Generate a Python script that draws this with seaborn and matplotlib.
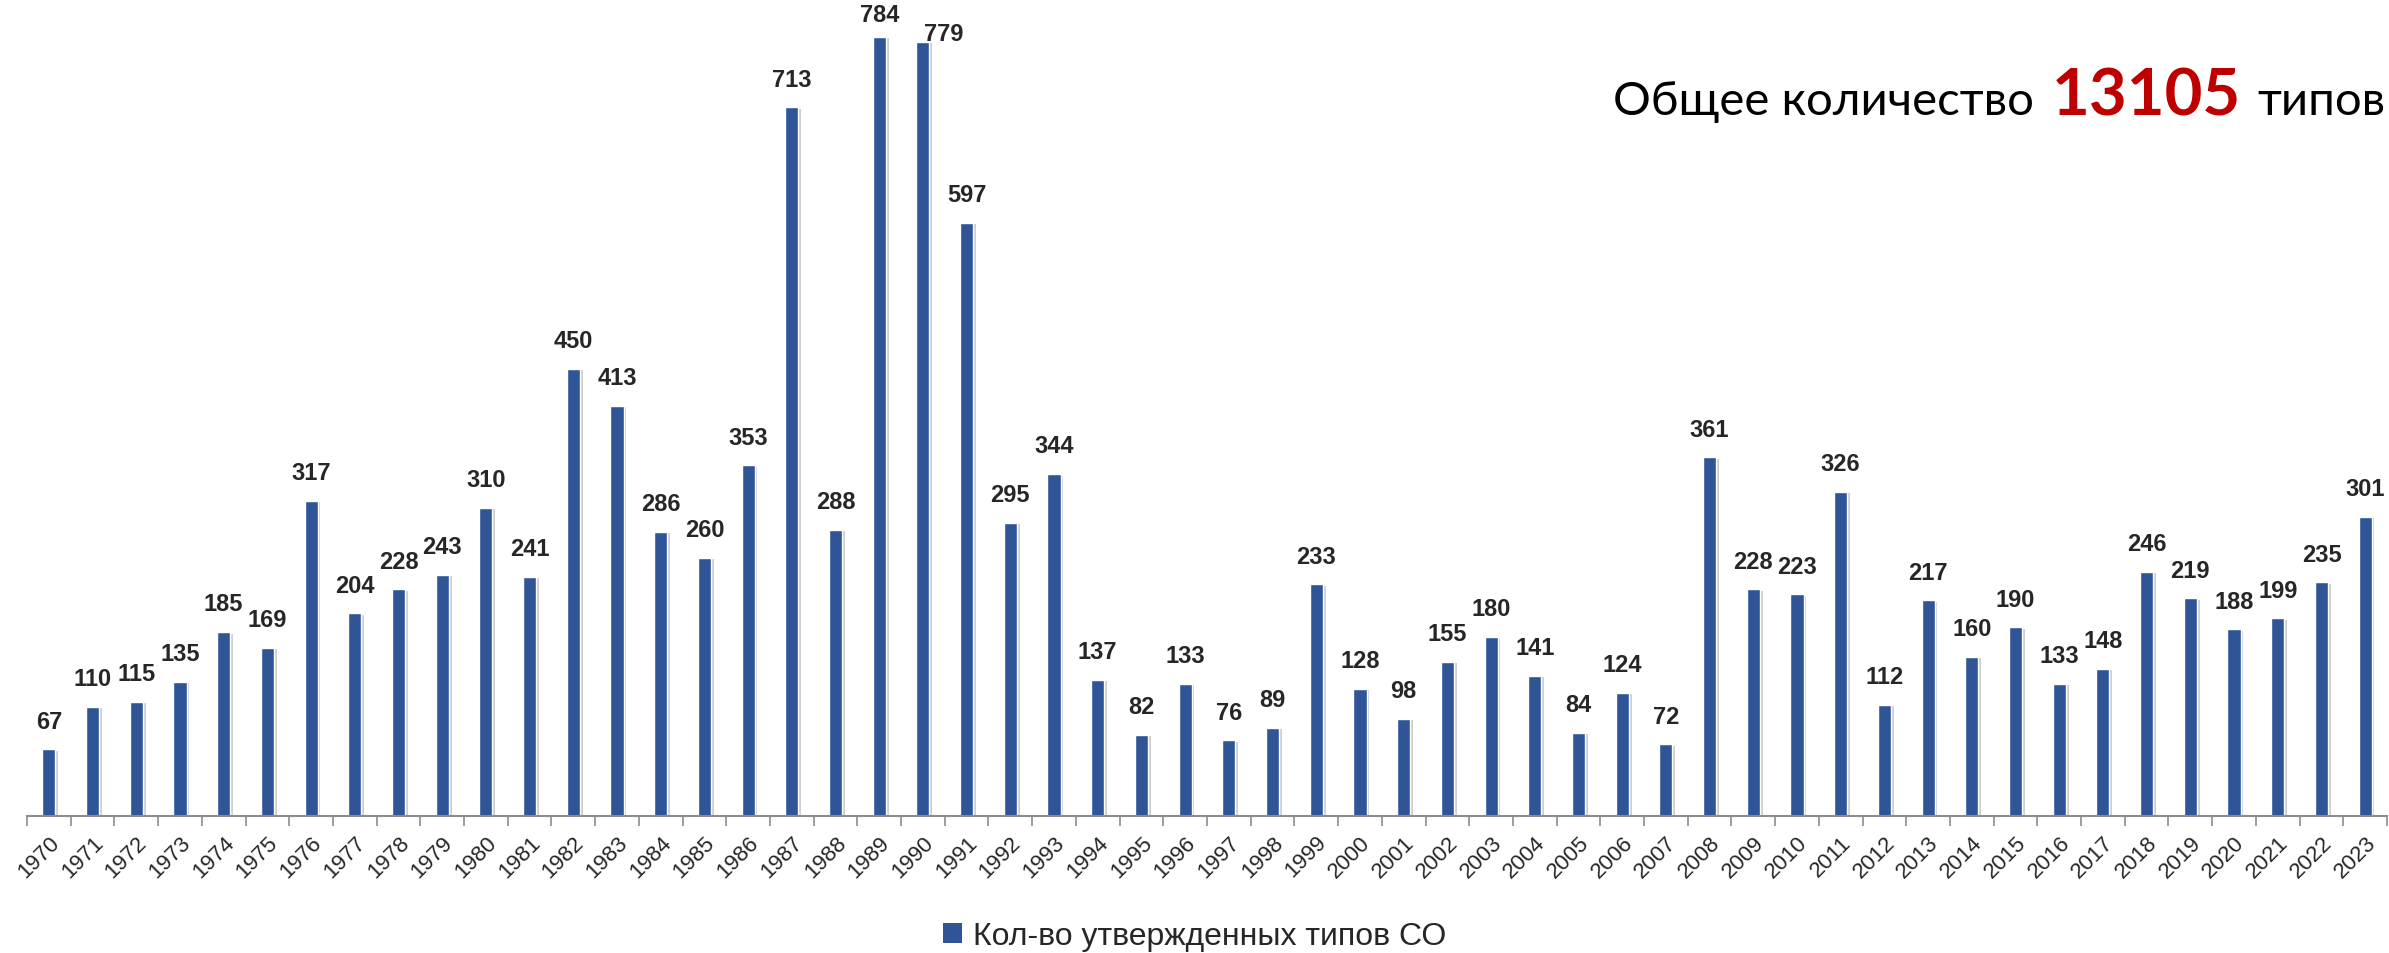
import numpy as np
import pandas as pd
import matplotlib
matplotlib.use("Agg")
import matplotlib.pyplot as plt
import matplotlib.patheffects as pe
import seaborn as sns
from matplotlib.patches import Patch
from matplotlib.ticker import FixedLocator

years = list(range(1970, 2024))
counts = [67, 110, 115, 135, 185, 169, 317, 204, 228, 243,
          310, 241, 450, 413, 286, 260, 353, 713, 288, 784,
          779, 597, 295, 344, 137, 82, 133, 76, 89, 233,
          128, 98, 155, 180, 141, 84, 124, 72, 361, 228,
          223, 326, 112, 217, 160, 190, 133, 148, 246, 219,
          188, 199, 235, 301]
legend_label = "Кол-во утвержденных типов СО"
title_left = "Общее количество"
total = "13105"
title_right = "типов"

sns.set_style("white")
plt.rcParams['font.family'] = ['Liberation Sans', 'DejaVu Sans']

bar_color = "#2F5597"

df = pd.DataFrame({"year": [str(y) for y in years], "count": counts})

W, H = 2389, 954
fig = plt.figure(figsize=(W / 100, H / 100), dpi=100)
ax = fig.add_axes([27 / W, 137 / H, 2360 / W, 795 / H])

sns.barplot(data=df, x="year", y="count", color=bar_color, width=0.3,
            saturation=1, ax=ax)
for p in ax.patches:
    p.set_path_effects([pe.SimplePatchShadow(offset=(2, -1), shadow_rgbFace="#777777",
                                             alpha=0.35), pe.Normal()])

# labels above bars (a couple nudged like in the original)
nudge = {19: (0, 8), 20: (15, -2)}
for i, v in enumerate(counts):
    dx, dy = nudge.get(i, (0, 12))
    ax.annotate(str(v), (i, v), xytext=(dx, dy), textcoords="offset points",
                ha="center", va="bottom", fontsize=17, fontweight="bold")

ax.set_ylim(0, 800)
ax.set_xlim(-0.5, len(years) - 0.5)
ax.set_xlabel("")
ax.set_ylabel("")
ax.set_yticks([])
for s in ["left", "top", "right"]:
    ax.spines[s].set_visible(False)
ax.spines["bottom"].set_color("#8c8c8c")
ax.spines["bottom"].set_linewidth(1.5)

# ticks between categories, labels at centers
ax.tick_params(axis="x", which="major", length=0, labelsize=16, pad=11)
ax.xaxis.set_minor_locator(FixedLocator(np.arange(-0.5, len(years), 1)))
ax.tick_params(axis="x", which="minor", length=7, width=1.2, color="#8c8c8c",
               direction="out", bottom=True)
for lbl in ax.get_xticklabels():
    lbl.set_rotation(45)
    lbl.set_ha("right")
    lbl.set_rotation_mode("anchor")

# legend
handle = Patch(facecolor=bar_color, edgecolor="none")
fig.legend([handle], [legend_label], loc="center",
           bbox_to_anchor=(0.5, 1 - 937 / H), frameon=False, fontsize=23,
           handlelength=0.6, handleheight=0.6, handletextpad=0.35)

# title in three pieces, laid out right to left
fig.canvas.draw()
r = fig.canvas.get_renderer()
base_y = 1 - 115 / H
tfont = ["Lato", "DejaVu Sans"]
x = 2385
t = fig.text(x / W, base_y, title_right, family=tfont, fontsize=34,
             ha="right", va="baseline", color="black")
x -= t.get_window_extent(r).width + 16
t = fig.text(x / W, base_y, total, family=tfont, fontsize=47,
             fontweight="bold", ha="right", va="baseline", color="#C00000")
x -= t.get_window_extent(r).width + 18
fig.text(x / W, base_y, title_left, family=tfont, fontsize=34,
         ha="right", va="baseline", color="black")

fig.savefig("out.png", dpi=100)
